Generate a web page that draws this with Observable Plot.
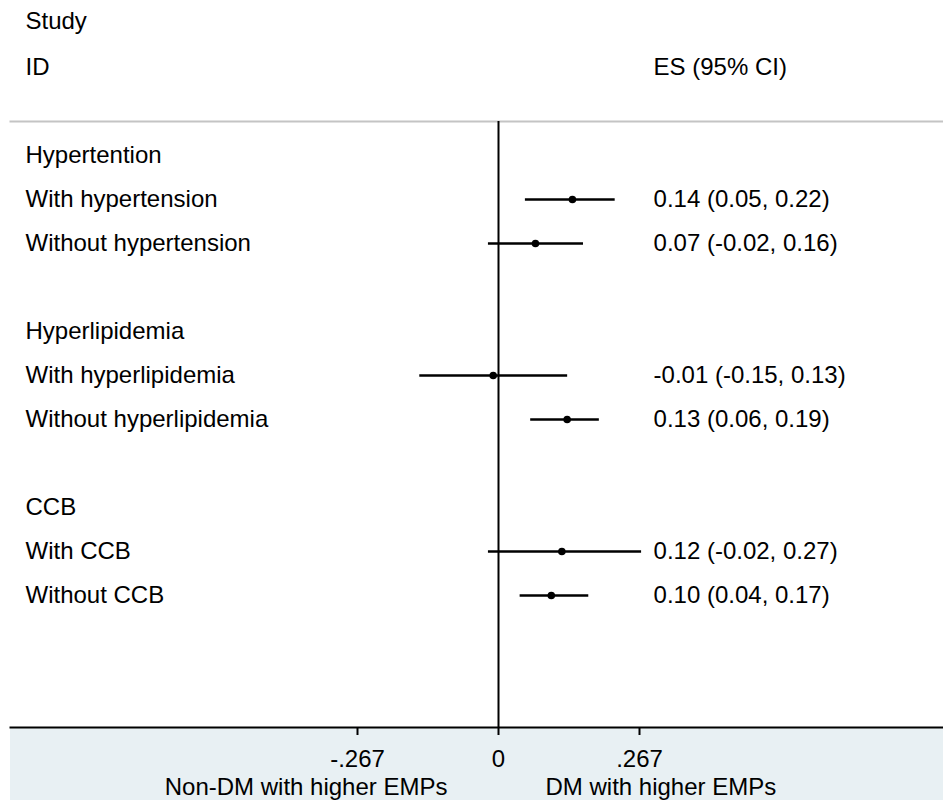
<!DOCTYPE html>
<html>
<head>
<meta charset="utf-8">
<script src="https://cdn.jsdelivr.net/npm/d3@7"></script>
<script src="https://cdn.jsdelivr.net/npm/@observablehq/plot@0.6"></script>
<style>
  html, body { margin: 0; padding: 0; background: #fff; }
  #chart svg { display: block; }
</style>
</head>
<body>
<div id="chart"></div>
<script>
// ---- data ----
const groups = ["Hypertention", "Hyperlipidemia", "CCB"];
const subgroups = [
  "With hypertension", "Without hypertension",
  "With hyperlipidemia", "Without hyperlipidemia",
  "With CCB", "Without CCB"
];
const es = [0.14, 0.07, -0.01, 0.13, 0.12, 0.10];
const lo = [0.05, -0.02, -0.15, 0.06, -0.02, 0.04];
const hi = [0.22, 0.16, 0.13, 0.19, 0.27, 0.17];
const tickValues = [-0.267, 0, 0.267];
const tickLabels = ["-.267", "0", ".267"];
const headerLeft = ["Study", "ID"];
const headerRight = "ES (95% CI)";
const sideLabels = ["Non-DM with higher EMPs", "DM with higher EMPs"];

// ---- derived table ----
const f = v => v.toFixed(2);
const groupRows = groups.map((g, i) => ({label: g, row: i * 4}));
const studyRows = subgroups.map((s, i) => ({
  label: s,
  row: Math.floor(i / 2) * 4 + 1 + (i % 2),
  es: es[i], lo: lo[i], hi: hi[i],
  txt: `${f(es[i])} (${f(lo[i])}, ${f(hi[i])})`
}));

const esColumn = 0.2936;   // x position of the ES column (data units)
const axisRow = 13, bottomRow = 14.66;

const chart = Plot.plot({
  width: 943,
  height: 800,
  marginTop: 121,
  marginBottom: 73,
  marginLeft: 10,
  marginRight: 0,
  style: {fontFamily: "'Liberation Sans', Arial, sans-serif", fontSize: "24px", color: "#000", background: "#fff"},
  x: {type: "linear", domain: [-0.267, 0.267], range: [357, 639], axis: null},
  y: {type: "linear", domain: [0, 13], range: [155, 727], axis: null},
  marks: [
    // bottom band
    Plot.rect([0], {y1: axisRow, y2: bottomRow, fill: "#e8f0f3"}),
    // header separator
    Plot.frame({anchor: "top", stroke: "#c4c4c4", strokeWidth: 2}),
    // null line
    Plot.ruleX([0], {stroke: "#000", strokeWidth: 2}),
    // axis line
    Plot.frame({anchor: "bottom", stroke: "#000", strokeWidth: 2}),
    Plot.ruleX(tickValues, {x: d => d, y1: axisRow, y2: axisRow + 8 / 44, stroke: "#000", strokeWidth: 2}),
    Plot.text(tickValues, {x: d => d, y: axisRow + 32 / 44, text: (d, i) => tickLabels[i], fill: "#000", fontSize: 24}),
    Plot.text([sideLabels[0]], {x: -0.0966, y: axisRow + 60 / 44, text: d => d, textAnchor: "end", fill: "#000", fontSize: 24}),
    Plot.text([sideLabels[1]], {x: 0.089, y: axisRow + 60 / 44, text: d => d, textAnchor: "start", fill: "#000", fontSize: 24}),
    // headers
    Plot.text(headerLeft, {frameAnchor: "left", dx: 15, y: (d, i) => i === 0 ? -3.05 : -2, text: d => d, textAnchor: "start", fill: "#000", fontSize: 24}),
    Plot.text([headerRight], {x: esColumn, y: -2, text: d => d, textAnchor: "start", fill: "#000", fontSize: 24}),
    // group labels
    Plot.text(groupRows, {frameAnchor: "left", dx: 15, y: "row", text: "label", textAnchor: "start", fill: "#000", fontSize: 24}),
    // study labels
    Plot.text(studyRows, {frameAnchor: "left", dx: 15, y: "row", text: "label", textAnchor: "start", fill: "#000", fontSize: 24}),
    // CIs
    Plot.link(studyRows, {x1: "lo", x2: "hi", y1: "row", y2: "row", stroke: "#000", strokeWidth: 2.6}),
    Plot.dot(studyRows, {x: "es", y: "row", r: 3.8, fill: "#000", stroke: null}),
    // ES text
    Plot.text(studyRows, {x: esColumn, y: "row", text: "txt", textAnchor: "start", fill: "#000", fontSize: 24})
  ]
});
document.getElementById("chart").append(chart);
</script>
</body>
</html>
